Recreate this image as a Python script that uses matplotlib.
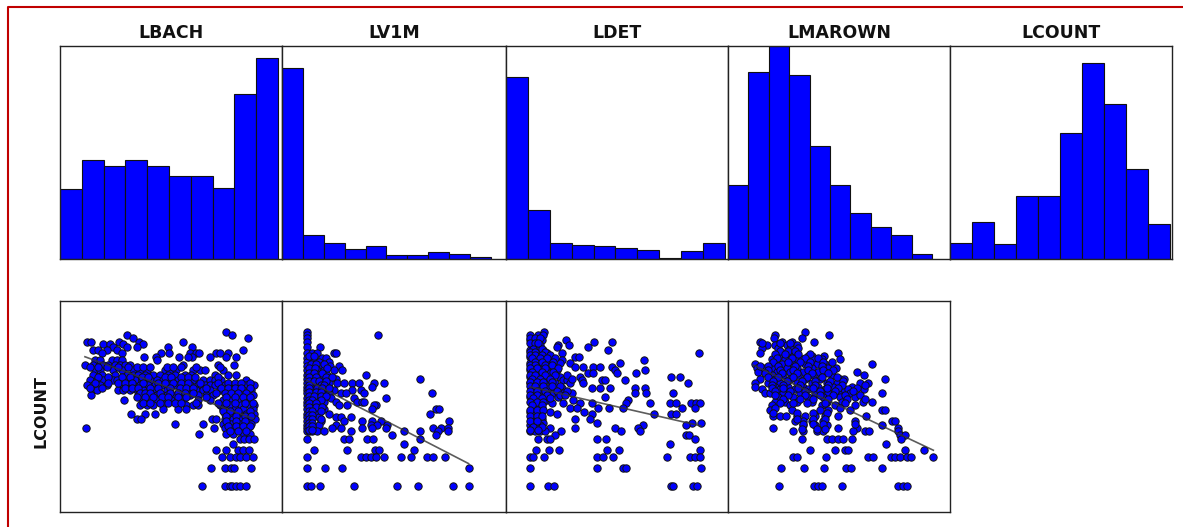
import numpy as np
import matplotlib
matplotlib.use('Agg')
import matplotlib.pyplot as plt
from matplotlib.lines import Line2D

W, H = 1183, 527

names = ['LBACH', 'LV1M', 'LDET', 'LMAROWN', 'LCOUNT']

# histogram bar heights
lbach_hist = [70, 99, 93, 99, 93, 83, 83, 71, 165, 201]
lv1m_hist = [191, 24, 16, 10, 13, 4, 4, 7, 5, 2]
ldet_hist = [182, 49, 16, 14, 13, 11, 9, 1, 8, 16]
lmarown_hist = [74, 187, 213, 184, 113, 74, 46, 32, 24, 5]
lcount_hist = [16, 37, 15, 63, 63, 126, 196, 155, 90, 35]
hist_vals = [lbach_hist, lv1m_hist, ldet_hist, lmarown_hist, lcount_hist]
hist_span = [10.18, 10.72, 10.14, 10.88, 10.09]

# scatter readings, one y level with the x values on it
lbach_y = [125, 134, 143, 155, 163, 172, 180, 190, 200, 210, 225, 240, 255, 270, 285, 300, 315, 330, 345, 355,
           370, 385, 400, 414, 430, 446, 460, 478, 501, 533, 588,
           232, 262, 278, 293, 308, 322, 338, 362, 378, 392, 407, 422]
lbach_x = [[530], [232, 548], [250, 594], [110, 124, 206, 268, 401], [160, 180, 218, 279], [190, 232, 262, 355, 427],
           [130, 143, 170, 200, 580], [155, 215, 332, 358, 422, 440, 447, 500, 510, 535],
           [282, 317, 387, 482, 530, 560, 427, 415], [135, 150, 185, 200, 215, 320],
           [105, 130, 160, 175, 195, 210, 225, 240, 400, 505, 553], [135, 150, 190, 215, 250, 270, 290, 345, 360, 378, 430, 450, 465, 520],
           [130, 155, 195, 230, 250, 265, 285, 310, 330, 355, 375, 405, 425, 495, 535, 560],
           [120, 140, 160, 190, 200, 235, 255, 275, 300, 320, 340, 365, 385, 410, 430, 460, 480, 495, 515, 590],
           [110, 130, 150, 170, 215, 235, 250, 270, 295, 315, 335, 355, 380, 400, 420, 445, 465, 480, 495, 525, 545, 565, 590, 612],
           [125, 140, 205, 220, 240, 260, 280, 310, 350, 395, 415, 440, 460, 480, 510, 540, 560, 580, 605],
           [124, 265, 290, 305, 320, 350, 375, 395, 420, 445, 470, 490, 535, 550, 575, 595, 610],
           [222, 275, 295, 320, 345, 365, 400, 445, 480, 520, 545, 565, 590],
           [270, 290, 310, 340, 385, 410, 430, 445, 510, 540, 575, 600, 612], [340, 385, 410, 520, 555, 580, 610],
           [242, 285, 315, 525, 545, 565, 590, 612], [262, 272, 487, 500, 525, 550, 575, 595, 615],
           [377, 459, 520, 545, 570, 590, 605], [107, 493, 525, 550, 575, 595], [447, 530, 550, 580, 600],
           [570, 582, 597, 614], [551], [498, 530, 565, 580, 597], [518, 542, 560, 572, 590, 610],
           [485, 525, 545, 552, 605], [457, 525, 540, 548, 558, 570, 590],
           [120, 145, 170, 205, 235, 260, 280, 300, 350, 370, 395, 440, 510],
           [145, 175, 215, 240, 275, 295, 345, 365, 395, 415, 435, 505],
           [135, 175, 205, 225, 245, 280, 325, 345, 370, 395, 415, 450, 505, 535, 555, 575, 600],
           [120, 155, 225, 245, 265, 300, 325, 360, 390, 410, 430, 470, 515, 535, 555, 575, 600],
           [270, 285, 300, 330, 360, 385, 405, 430, 500, 525, 545, 565, 590],
           [260, 285, 310, 335, 355, 385, 410, 470, 530, 555, 580, 600],
           [280, 300, 330, 355, 375, 395, 440, 505, 530, 555, 585, 610],
           [520, 540, 565, 600], [530, 560, 585, 605], [530, 560, 585], [535, 560, 580, 600], [540, 565, 590]]

lv1m_y = [125, 135, 145, 155, 170, 190, 205, 215, 228, 240, 255, 268, 280, 290, 300, 310, 325, 335, 345, 355, 370,
          380, 392, 403, 413, 423, 433, 446, 460, 478, 501, 533, 588,
          197, 222, 233, 248, 262, 274, 285, 295, 305, 318, 330, 340, 350, 362, 375, 385, 398, 408, 418]
lv1m_x = [[83], [83, 298], [83], [83], [83, 122], [83, 100, 115, 165, 172], [83, 105, 130, 140], [83, 120, 150],
          [83, 105, 125, 152, 180], [83, 100, 115, 135, 165, 188], [83, 95, 120, 145, 260], [83, 100, 125, 170, 423],
          [83, 95, 110, 130, 150, 175, 195, 220, 240, 285, 315], [83, 105, 140, 280], [83, 95, 120, 140, 165, 220, 245],
          [83, 100, 130, 150, 185, 200, 255, 458], [83, 95, 115, 130, 155, 225, 320],
          [83, 105, 135, 170, 235, 250, 255], [83, 95, 120, 180, 205, 290, 285], [83, 105, 135, 470, 280, 480],
          [83, 110, 150, 452], [83, 120, 170, 185, 215], [83, 125, 195, 250, 280, 305, 510],
          [83, 100, 120, 170, 275, 295, 325], [83, 160, 185, 250, 280, 320, 460, 485, 505],
          [83, 90, 100, 115, 135, 215, 375, 423, 475, 505], [340, 470], [83, 195, 210, 265, 283, 423], [373],
          [105, 203, 288, 300, 403], [83, 245, 260, 275, 290, 315, 365, 395, 442, 460, 497],
          [83, 138, 190, 568], [83, 97, 123, 226, 353, 417, 520, 568],
          [90, 105], [95, 110, 135], [90, 108, 145], [90, 105, 130], [90, 110, 140, 160], [90, 105, 120, 140],
          [90, 125, 135], [90, 115, 130, 150], [90, 110, 125], [90, 105, 125, 140], [90, 100, 125], [90, 110],
          [90, 110, 130], [90, 100, 125], [90, 100], [90, 100, 125], [90, 100], [90, 100], [90, 100]]

ldet_y = [125, 135, 150, 155, 165, 172, 180, 190, 200, 210, 220, 230, 240, 250, 262, 270, 280, 295, 310, 320, 330,
          340, 352, 365, 372, 385, 398, 405, 413, 423, 433, 446, 460, 478, 501, 533, 588,
          143, 158, 176, 185, 195, 205, 215, 225, 235, 245, 256, 266, 275, 288, 302, 315, 325, 335, 346, 358, 378, 392,
          410, 418]
ldet_x = [[133], [90, 115, 128], [90, 110, 125, 198], [283, 335], [95, 120, 175, 208], [170, 263],
          [90, 110, 130, 325], [95, 120, 140, 185, 599], [90, 110, 225, 237], [100, 130, 150, 185, 433],
          [90, 115, 145, 180, 210, 362], [95, 125, 160, 225, 250, 280, 300, 335], [90, 110, 140, 170, 345, 435],
          [95, 120, 150, 265, 278, 350, 408], [90, 110, 130, 180, 240, 515, 542],
          [100, 140, 190, 200, 245, 305, 315, 377], [90, 120, 165, 210, 250, 565],
          [95, 115, 145, 185, 275, 300, 330, 405, 437], [100, 130, 160, 190, 215, 405, 440, 520], [90, 120, 175, 315],
          [95, 140, 220, 385], [110, 155, 190, 240, 275, 380, 452, 510, 530, 575, 590, 600],
          [100, 125, 210, 230, 295, 328, 370, 548, 585], [90, 115, 150, 252],
          [105, 172, 275, 462, 515, 530], [95, 125, 270, 225], [100, 130, 292, 577, 604], [90, 120, 430, 558],
          [95, 110, 150, 225, 345, 415], [90, 105, 120, 135, 184, 365, 420], [165, 558, 568],
          [115, 140, 150, 292, 318, 585], [510], [108, 148, 176, 322, 358, 600],
          [90, 100, 132, 292, 310, 338, 503, 570, 585, 600], [90, 292, 370, 378, 604],
          [90, 143, 163, 515, 520, 580, 592],
          [90, 105, 120], [90, 105, 115], [100, 125], [90, 105, 135], [90, 105, 125, 150], [95, 120, 140, 165],
          [105, 125, 160], [90, 105, 135, 155], [90, 110, 135, 175], [95, 125, 160], [90, 105, 135, 165, 200],
          [95, 120, 150, 215], [90, 110, 130, 155], [90, 105, 130, 155, 180], [90, 110, 135, 170, 200],
          [90, 110, 140, 180, 195], [100, 125, 150], [90, 110, 130], [95, 125], [90, 110, 130], [90, 110, 125],
          [90, 110], [100, 125], [90, 115]]

lmarown_y = [125, 135, 143, 155, 165, 175, 188, 198, 208, 222, 235, 245, 255, 266, 278, 290, 298, 310, 322, 335,
             345, 358, 378, 393, 405, 413, 423, 433, 446, 460, 478, 501, 533, 588,
             160, 182, 193, 203, 215, 228, 240, 250, 260, 272, 284, 294, 304, 316, 328, 340, 352, 368, 385, 400, 415]
lmarown_x = [[240], [150, 313], [148, 230], [105, 172, 200, 268], [125, 150, 185, 215], [110, 160, 195, 220],
             [105, 175, 205, 338], [165, 195, 250, 262, 298], [140, 180, 215, 230, 265, 290, 345],
             [90, 150, 170, 200, 240, 275, 300, 442], [95, 115, 140, 185, 215, 260, 310, 333],
             [100, 155, 195, 235, 280, 300, 395], [140, 175, 220, 265, 320, 418],
             [105, 150, 195, 240, 285, 345, 358, 480], [90, 130, 165, 215, 260, 305, 335, 405, 430],
             [90, 150, 190, 235, 280, 325, 380], [112, 165, 210, 250, 300, 350, 370, 418],
             [120, 135, 175, 225, 270, 310, 340, 375, 470], [160, 205, 250, 295, 345, 390],
             [150, 180, 215, 260, 305, 350, 415, 440], [140, 195, 290, 330, 390],
             [135, 200, 285, 310, 375, 470, 480], [145, 165, 182, 215, 240, 270, 300, 340, 422],
             [210, 235, 262, 295, 390, 500, 510], [235, 270, 305, 470], [143, 340, 395, 520],
             [205, 235, 275, 295, 385, 420, 433, 520], [525, 540], [230, 305, 320, 338, 355, 380, 527], [483],
             [255, 330, 360, 370, 540, 598], [203, 215, 303, 430, 445, 497, 510, 525, 545, 558, 625],
             [168, 236, 296, 362, 378, 470], [163, 268, 280, 292, 350, 520, 533, 545],
             [110, 165, 195], [165, 190, 210], [150, 180, 220, 255], [155, 200, 240, 280],
             [145, 190, 225, 255, 295, 320], [105, 130, 160, 210, 250, 290], [130, 165, 205, 250, 295, 325],
             [120, 170, 215, 260, 310], [130, 160, 205, 245, 290, 335], [145, 185, 230, 270, 315, 355],
             [140, 175, 225, 270, 310, 350, 420], [140, 175, 220, 265, 305, 340, 395], [150, 195, 240, 285, 330, 385],
             [150, 190, 240, 285, 325, 360, 405], [175, 225, 265, 310, 365, 420], [165, 205, 245, 300, 360],
             [150, 345], [145, 215, 265, 305], [215, 265, 300], [235, 265, 295, 390], [230, 275, 300]]

scatter_y = [lbach_y, lv1m_y, ldet_y, lmarown_y]
scatter_x = [lbach_x, lv1m_x, ldet_x, lmarown_x]

# ends of the fitted lines
fit_x = [[105, 610], [83, 568], [90, 603], [85, 625]]
fit_y = [[200, 385], [270, 520], [290, 407], [225, 480]]
# x range of each lower panel, same units as the readings
scatter_xlim = [(30, 697), (9, 680), (18, 685), (9, 675)]

panel_left = [60, 282, 506, 728, 950]
panel_right = [282, 506, 728, 950, 1172]


def make_ax(fig, x0, x1, top, bottom):
    ax = fig.add_axes([x0 / W, 1 - bottom / H, (x1 - x0) / W, (bottom - top) / H])
    ax.set_xticks([])
    ax.set_yticks([])
    for s in ax.spines.values():
        s.set_color('#222222')
        s.set_linewidth(1.0)
    return ax


fig = plt.figure(figsize=(W / 100, H / 100), dpi=100, facecolor='white')

# top row
for i in range(5):
    ax = make_ax(fig, panel_left[i], panel_right[i], 46, 259)
    ax.bar(np.arange(10), hist_vals[i], width=1, align='edge', color='#0000ff', edgecolor='#111111', linewidth=0.8)
    ax.set_xlim(0, hist_span[i])
    ax.set_ylim(0, 213)
    ax.set_title(names[i], fontsize=12.5, fontweight='bold', pad=6, color='#111111')

# bottom row
for i in range(4):
    ax = make_ax(fig, panel_left[i], panel_right[i], 301, 512)
    xs, ys = [], []
    for y, row in zip(scatter_y[i], scatter_x[i]):
        xs += row
        ys += [y] * len(row)
    ax.scatter(xs, ys, s=28, color='#0000ff', edgecolor='#111111', linewidth=0.7, zorder=2)
    ax.plot(fit_x[i], fit_y[i], color='#333333', lw=1.2, alpha=0.8, zorder=3)
    ax.set_xlim(*scatter_xlim[i])
    ax.set_ylim(665, 33)

fig.text(41 / W, 1 - 412 / H, 'LCOUNT', rotation=90, fontsize=11.5, fontweight='bold', color='#111111',
         ha='center', va='center')

# red page frame
fig.add_artist(Line2D([8 / W, 8 / W, 1], [0, 1 - 7 / H, 1 - 7 / H], color='#c00000', lw=1.5))

plt.savefig('out.png', dpi=100)
